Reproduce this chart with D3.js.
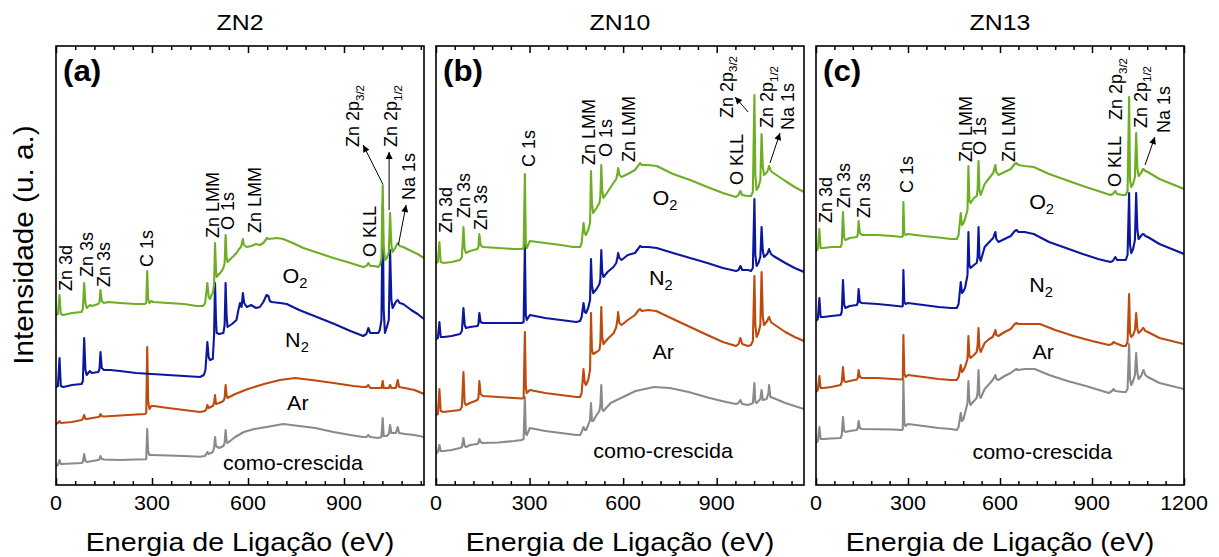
<!DOCTYPE html>
<html>
<head>
<meta charset="utf-8">
<script src="https://cdn.jsdelivr.net/npm/d3@7"></script>
<style>
  body { margin: 0; background: #fff; }
  svg { display: block; }
  text { font-family: "Liberation Sans", Arial, Helvetica, sans-serif; fill: #000; }
</style>
</head>
<body>
<svg id="chart" width="1219" height="557"></svg>
<script>
// ---------------------------------------------------------------------------
// XPS survey spectra: [binding energy (eV), intensity (a.u., stacked offsets)]
// ---------------------------------------------------------------------------

// ZN2
const zn2AsGrown = [[0,19],[6,20],[11,25],[15,21],[50,21.5],[80,22],[84,23],[88,31],[92,24],[96,23],[132,25],[136,26],[139,29],[143,26],[150,25.5],[200,25],[250,25.5],[278,25.7],[282,26],[285,56],[288,33],[292,30],[300,30],[350,29.5],[400,29],[450,28.3],[465,29],[470,31],[473,33],[477,31],[490,33],[494,37],[497,48],[500,39],[510,37],[523,39],[527,42],[530,55],[533,44],[536,42],[560,48],[587,53],[620,56],[658,58],[710,61],[760,59],[810,57],[867,53],[920,50],[960,48],[970,48],[976,50],[982,48],[1007,47],[1017,48],[1021,67],[1024,49],[1034,49],[1040,51],[1044,60],[1048,52],[1062,52],[1068,58],[1072,52],[1090,51],[1120,50],[1150,48]];
const zn2Ar = [[0,61],[6,62],[11,64],[15,62],[50,63],[80,65],[84,66],[88,70],[92,66],[96,66],[132,68],[136,68.5],[139,71],[143,69],[150,68.5],[200,69.5],[250,70.5],[278,71],[282,72],[285,138],[288,84],[292,76],[298,79],[306,79],[350,77],[400,75],[450,73],[465,74],[470,76],[473,80],[477,77],[490,79],[494,82],[497,90],[500,81],[510,82],[523,84],[527,87],[530,100],[533,90],[536,87],[560,91],[600,96],[650,101],[700,105],[747,107],[800,105],[867,102],[930,99],[960,98],[970,98],[976,100],[982,97],[1007,97],[1017,97],[1021,104],[1024,97],[1034,97],[1040,97],[1044,100],[1048,97],[1062,97],[1068,105],[1072,98],[1090,97],[1120,95],[1150,91]];
const zn2N2 = [[0,98],[6,99],[11,127],[15,99],[23,98],[50,100],[80,101],[84,104],[88,147],[92,115],[96,110],[106,114],[112,112],[132,113],[136,116],[139,133],[143,117],[150,115],[169,115],[200,114],[250,112],[300,111],[350,110],[400,109],[450,108],[462,110],[467,115],[473,143],[477,128],[481,125],[490,126],[494,150],[497,202],[500,165],[502,152],[510,151],[523,152],[527,160],[530,202],[533,170],[536,158],[550,161],[564,165],[570,175],[575,182],[580,178],[584,192],[588,182],[596,178],[610,180],[625,177],[637,178],[648,183],[658,190],[664,189],[668,184],[674,183],[700,182],[721,181],[760,175],[815,168],[870,161],[920,154],[960,149],[970,151],[976,157],[982,152],[995,152],[1007,152],[1012,155],[1017,165],[1021,280],[1024,175],[1028,152],[1034,158],[1040,165],[1044,235],[1048,185],[1052,177],[1060,182],[1064,184],[1068,185],[1074,182],[1085,181],[1110,175],[1130,171],[1150,166]];
const zn2O2 = [[0,170],[6,171],[11,190],[15,171],[23,170],[50,172],[80,173],[84,176],[88,202],[92,182],[96,177],[106,180],[112,179],[132,181],[136,183],[139,195],[143,184],[150,182],[163,183],[200,182],[250,181],[278,181],[282,182],[285,214],[288,186],[292,182],[298,184],[304,183],[350,182],[400,181],[440,179],[460,179],[466,182],[473,202],[477,188],[481,186],[486,190],[490,192],[494,200],[497,242],[500,215],[502,208],[510,211],[518,214],[523,217],[527,222],[530,250],[533,228],[536,223],[545,226],[555,229],[564,232],[572,236],[578,238],[581,242],[584,246],[587,240],[596,238],[610,239],[625,241],[637,240],[648,242],[655,245],[658,247],[665,246],[690,247],[710,246],[740,242],[773,237],[820,232],[867,227],[910,223],[940,220],[960,218],[970,219],[976,222],[982,219],[995,219],[1007,218],[1012,220],[1017,226],[1021,300],[1024,240],[1028,225],[1034,227],[1040,233],[1044,272],[1048,240],[1052,233],[1060,237],[1064,240],[1068,242],[1074,239],[1085,238],[1110,234],[1130,231],[1150,227]];

// ZN10
const zn10AsGrown = [[0,32],[6,33],[11,40],[15,34],[25,34],[50,35],[77,37],[83,38],[88,47],[92,39],[96,38],[109,40],[133,41],[136,42],[139,46],[143,43],[150,42],[200,42.5],[250,44],[275,45],[281,46],[285,88],[288,52],[291,50],[301,57],[350,54],[400,52],[450,50],[462,50],[467,53],[473,58],[477,55],[481,55],[488,60],[494,65],[497,82],[500,64],[504,64],[515,70],[524,74],[527,80],[530,100],[533,76],[537,74],[560,82],[593,87],[640,94],[699,98],[750,97],[810,93],[877,87],[930,83],[962,81],[970,82],[976,85],[982,81],[1000,80],[1010,81],[1016,82],[1021,102],[1024,83],[1028,82],[1034,84],[1040,86],[1044,95],[1048,85],[1060,86],[1066,92],[1068,100],[1072,88],[1082,87],[1120,82],[1150,79],[1180,76]];
const zn10Ar = [[0,70],[6,71],[11,96],[15,74],[25,73],[50,74],[77,75],[83,78],[88,113],[92,82],[96,80],[109,82],[133,85],[136,87],[139,104],[143,91],[150,89],[200,88],[250,87],[275,86.5],[281,87],[285,153],[288,98],[291,92],[301,95],[350,92],[400,90],[450,88],[462,88],[467,92],[473,116],[477,102],[481,100],[488,105],[494,115],[497,172],[500,135],[504,131],[515,133],[524,135],[527,142],[530,178],[533,148],[537,141],[550,146],[570,152],[578,158],[582,166],[584,173],[588,162],[595,160],[615,165],[638,170],[650,175],[654,176],[660,174],[680,175],[706,174],[760,166],[815,158],[870,150],[920,143],[962,139],[970,141],[976,147],[982,141],[1000,139],[1010,140],[1016,144],[1021,209],[1024,160],[1028,148],[1034,152],[1040,160],[1044,213],[1048,168],[1052,160],[1062,164],[1066,167],[1068,168],[1074,163],[1082,161],[1120,153],[1150,148],[1180,144]];
const zn10N2 = [[0,146],[6,147],[11,163],[15,148],[25,148],[50,149],[77,151],[83,154],[88,177],[92,160],[96,157],[109,158],[133,159],[136,161],[139,172],[143,163],[150,162],[200,162],[250,162],[275,162],[281,163],[285,240],[288,170],[291,165],[301,170],[350,167],[400,165],[450,163],[462,164],[467,168],[473,182],[477,173],[481,172],[488,177],[494,185],[497,226],[500,200],[504,192],[515,196],[524,201],[527,206],[530,235],[533,213],[537,208],[550,213],[569,218],[578,222],[582,228],[584,232],[588,227],[595,225],[615,230],[638,232],[650,237],[654,239],[660,238],[680,238],[708,237],[760,232],[815,227],[870,222],[920,217],[962,214],[970,215],[976,219],[982,215],[1000,215],[1010,214],[1016,217],[1021,286],[1024,230],[1028,219],[1034,222],[1040,228],[1044,258],[1048,234],[1052,228],[1062,231],[1066,234],[1068,236],[1074,231],[1082,229],[1120,222],[1150,217],[1180,213]];
const zn10O2 = [[0,222],[6,223],[11,243],[15,223],[25,222],[50,223],[77,225],[83,228],[88,258],[92,236],[96,232],[109,234],[133,236],[136,238],[139,251],[143,240],[150,238],[200,237],[250,236],[275,236],[281,237],[285,311],[288,242],[291,237],[301,244],[350,242],[400,240],[440,238],[462,238],[467,242],[473,262],[477,252],[481,250],[488,255],[494,262],[497,314],[500,282],[504,272],[515,277],[524,282],[527,288],[530,320],[533,295],[537,287],[550,293],[569,302],[578,306],[582,312],[584,317],[588,310],[595,308],[615,311],[638,315],[650,320],[654,322],[660,320],[680,320],[708,319],[760,311],[815,305],[870,298],[920,292],[962,288],[970,290],[976,294],[982,290],[1000,289],[1010,289],[1016,293],[1021,390],[1024,310],[1028,295],[1034,298],[1040,305],[1044,351],[1048,318],[1052,310],[1062,313],[1066,317],[1068,319],[1074,314],[1082,312],[1120,304],[1150,298],[1180,293]];

// ZN13
const zn13AsGrown = [[0,42],[6,44],[11,58],[15,46],[25,46],[50,46.5],[80,47],[84,50],[88,68],[92,54],[96,53],[110,54],[133,55],[136,57],[139,64],[143,57],[150,56],[200,55.7],[250,55.5],[280,55],[283,56],[285,105],[288,62],[292,59],[300,61],[350,59],[400,57],[440,56],[459,55],[465,58],[472,72],[476,64],[481,66],[486,72],[494,82],[497,104],[500,85],[504,80],[515,84],[524,87],[527,93],[530,115],[533,90],[537,87],[550,96],[565,101],[576,105],[582,108],[585,110],[588,106],[595,105],[615,109],[635,112],[648,115],[654,116],[660,115],[680,116],[713,116],[760,110],[820,104],[880,99],[955,92],[965,94],[970,96],[976,94],[1000,93],[1010,93],[1016,96],[1021,141],[1024,106],[1028,100],[1034,104],[1040,110],[1044,132],[1048,112],[1052,106],[1062,110],[1066,114],[1068,115],[1074,110],[1082,108],[1120,102],[1160,99],[1200,96]];
const zn13Ar = [[0,93],[6,95],[11,109],[15,97],[25,97],[50,98],[80,100],[84,103],[88,118],[92,104],[96,103],[110,104],[133,105.5],[136,107],[139,115],[143,108],[150,107],[200,107],[250,106],[280,105.5],[283,106],[285,150],[288,112],[292,108],[300,110],[350,108],[400,106],[440,105],[459,105],[465,108],[472,120],[476,113],[481,115],[486,118],[494,126],[497,149],[500,130],[504,127],[515,130],[524,133],[527,140],[530,157],[533,137],[537,133],[550,142],[565,146],[576,148],[582,152],[585,155],[588,150],[595,149],[615,153],[635,156],[648,161],[654,162],[660,161],[680,161],[730,161],[780,155],[840,149],[900,144],[955,140],[965,141],[970,143],[976,142],[1000,139],[1010,139],[1016,143],[1021,191],[1024,152],[1028,148],[1034,150],[1040,155],[1044,172],[1048,156],[1052,152],[1062,155],[1066,157],[1068,157],[1074,154],[1082,153],[1120,147],[1160,144],[1200,141]];
const zn13N2 = [[0,164],[6,166],[11,187],[15,168],[25,168],[50,169],[80,170],[84,173],[88,205],[92,180],[96,177],[110,179],[133,180],[136,182],[139,196],[143,183],[150,182],[200,181],[250,179.5],[280,178.5],[283,179],[285,215],[288,183],[292,181],[300,182],[350,180],[400,178],[440,177],[459,177],[465,181],[472,203],[476,192],[481,194],[486,197],[494,210],[497,253],[500,220],[504,217],[515,220],[524,222],[527,228],[530,258],[533,228],[537,224],[550,238],[565,243],[578,247],[582,251],[585,253],[588,246],[595,243],[615,246],[635,249],[648,254],[654,255],[660,253],[680,253],[710,251],[760,243],[815,237],[870,231],[920,226],[960,223],[968,224],[976,228],[982,225],[1000,225],[1010,225],[1016,230],[1021,292],[1024,240],[1028,232],[1034,236],[1040,245],[1044,292],[1048,255],[1052,246],[1062,250],[1066,251],[1068,251],[1074,249],[1082,248],[1120,241],[1160,236],[1200,231]];
const zn13O2 = [[0,234],[6,236],[11,256],[15,237],[25,237],[50,238],[80,238],[84,241],[88,273],[92,247],[96,245],[110,247],[133,248],[136,250],[139,264],[143,252],[150,250],[200,250],[250,249],[280,248],[283,249],[285,283],[288,252],[292,250],[300,251],[350,249],[400,247.5],[440,246],[459,246],[465,250],[472,272],[476,260],[481,262],[486,266],[494,275],[497,319],[500,285],[504,282],[515,287],[524,289],[527,295],[530,324],[533,295],[537,290],[550,301],[565,307],[578,312],[582,317],[585,320],[588,313],[595,310],[615,313],[635,316],[648,321],[654,322],[660,320],[680,319],[710,318],[760,311],[815,305],[870,299],[920,294],[960,290],[968,291],[976,294],[982,291],[1000,290],[1010,290],[1016,294],[1021,388],[1024,305],[1028,298],[1034,301],[1040,308],[1044,352],[1048,316],[1052,309],[1062,313],[1066,316],[1068,316],[1074,314],[1082,313],[1120,306],[1160,301],[1200,296]];

const sampleNames = ["ZN2", "ZN10", "ZN13"];
const panelTags = ["(a)", "(b)", "(c)"];
const energyMax = [1150, 1180, 1200];
const majorTicks = [0, 300, 600, 900, 1200];
const minorStep = 60;
const atmospheres = ["como-crescida", "Ar", "N2", "O2"];
const seriesColors = ["#8a8a8a", "#bf4a0e", "#0c179f", "#6eae25"];
const spectra = [
  [zn2AsGrown, zn2Ar, zn2N2, zn2O2],
  [zn10AsGrown, zn10Ar, zn10N2, zn10O2],
  [zn13AsGrown, zn13Ar, zn13N2, zn13O2]
];

// Peak labels (text, subscript) shared by all panels
const peakNames = [["Zn 3d"], ["Zn 3s"], ["Zn 3s"], ["C 1s"], ["Zn LMM"], ["O 1s"], ["Zn LMM"],
                   ["O KLL"], ["Zn 2p", "3/2"], ["Zn 2p", "1/2"], ["Na 1s"]];

// ---------------------------------------------------------------------------
// Annotation placement, in data coordinates (energy, intensity)
// ---------------------------------------------------------------------------
const peakLabelPos = [
  [[50,194],[116,208],[169,198],[303,218],[509,247],[556,255],[641,252],[1000,228],[947,338],[1066,338],[1122,285]],
  [[51,252],[109,267],[163,255],[317,318],[510,320],[564,328],[638,323],[984,300],[952,367],[1081,357],[1148,355]],
  [[52,262],[111,277],[176,267],[316,292],[509,323],[554,330],[648,323],[994,298],[998,365],[1079,357],[1154,352]]
];
const arrowPos = [
  [[[1021,301],[960,340]], [[1041,275],[1041,333]], [[1070,240],[1094,280]]],
  [[[1001,373],[959,388]], [[1071,322],[1103,352]]],
  [[[1073,320],[1105,348]]]
];
// series name label anchors (energy, intensity) in order como-crescida, Ar, N2, O2
const seriesLabelPos = [
  [[522,15],[722,75],[716,138],[708,202]],
  [[504,27],[694,126],[683,200],[694,280]],
  [[510,26],[706,126],[695,193],[695,276]]
];

// ---------------------------------------------------------------------------
// Layout
// ---------------------------------------------------------------------------
const svg = d3.select("#chart");
const panelLeft = [56, 436, 816];
const panelW = 368, plotTop = 46, plotBottom = 485;
const yScale = d3.scaleLinear().domain([0, plotBottom - plotTop]).range([plotBottom, plotTop]);

function addText(g, x, yy, str, o) {
  let tf = `translate(${x},${yy})`;
  if (o.rot) tf += ` rotate(${o.rot})`;
  if (o.sx) tf += ` scale(${o.sx},1)`;
  const t = g.append("text")
    .attr("transform", tf)
    .attr("font-size", o.size)
    .attr("text-anchor", o.anchor || "start");
  if (o.weight) t.attr("font-weight", o.weight);
  t.append("tspan").text(str);
  if (o.sub) t.append("tspan").attr("font-size", o.subSize).attr("dy", o.subDy).text(o.sub);
  return t;
}

svg.append("defs").append("marker")
  .attr("id", "arrowhead")
  .attr("viewBox", "0 0 10 10")
  .attr("refX", 10).attr("refY", 5)
  .attr("markerWidth", 9).attr("markerHeight", 7)
  .attr("markerUnits", "userSpaceOnUse")
  .attr("orient", "auto")
  .append("path").attr("d", "M0,0 L10,5 L0,10 Z").attr("fill", "#000");

// y-axis title
addText(svg, 33, 245, "Intensidade (u. a.)", { size: 27, rot: -90, sx: 1.1, anchor: "middle" });

sampleNames.forEach((name, p) => {
  const x0 = panelLeft[p];
  const x = d3.scaleLinear().domain([0, energyMax[p]]).range([x0, x0 + panelW]);
  const y = yScale;
  const g = svg.append("g");
  const cx = x0 + panelW / 2;

  g.append("clipPath").attr("id", "clip" + p)
    .append("rect").attr("x", x0).attr("y", plotTop).attr("width", panelW).attr("height", plotBottom - plotTop);

  // spectra
  const line = d3.line().x(d => x(d[0])).y(d => y(d[1]));
  const curves = g.append("g").attr("clip-path", `url(#clip${p})`);
  spectra[p].forEach((s, i) => {
    curves.append("path")
      .datum(s)
      .attr("d", line)
      .attr("fill", "none")
      .attr("stroke", seriesColors[i])
      .attr("stroke-width", 2.1)
      .attr("stroke-linejoin", "round");
  });

  // axes: inward ticks on bottom and top
  const majors = majorTicks.filter(v => v <= energyMax[p]);
  const minors = d3.range(0, energyMax[p] + 1, minorStep).filter(v => v % 300 !== 0);
  [[d3.axisBottom, plotBottom], [d3.axisTop, plotTop]].forEach(([ax, yy]) => {
    const major = g.append("g").attr("transform", `translate(0,${yy})`)
      .call(ax(x).tickValues(majors).tickSize(-7).tickFormat(""));
    const minor = g.append("g").attr("transform", `translate(0,${yy})`)
      .call(ax(x).tickValues(minors).tickSize(-4).tickFormat(""));
    [major, minor].forEach(a => {
      a.select(".domain").remove();
      a.selectAll("line").attr("stroke", "#000").attr("stroke-width", 1.5);
    });
  });
  majors.forEach(v => addText(g, x(v), 510, d3.format("d")(v), { size: 19.5, sx: 1.1, anchor: "middle" }));

  // frame
  g.append("rect").attr("x", x0).attr("y", plotTop).attr("width", panelW).attr("height", plotBottom - plotTop)
    .attr("fill", "none").attr("stroke", "#000").attr("stroke-width", 1.6);

  // titles
  addText(g, cx, 30, name, { size: 22, sx: 1.13, anchor: "middle" });
  addText(g, cx, 551, "Energia de Ligação (eV)", { size: 26, sx: 1.1, anchor: "middle" });
  addText(g, x0 + 7, 81, panelTags[p], { size: 29, sx: 1.08, weight: "bold" });

  // series names
  atmospheres.forEach((a, i) => {
    const [e, v] = seriesLabelPos[p][i];
    const isGas = a.endsWith("2");
    addText(g, x(e), y(v), isGas ? a.slice(0, -1) : a, {
      size: 20.5, sx: 1.05,
      sub: isGas ? "2" : null, subSize: 14, subDy: 5
    });
  });

  // peak assignments
  peakNames.forEach((pk, i) => {
    const [e, v] = peakLabelPos[p][i];
    addText(g, x(e), y(v), pk[0], {
      size: 18, rot: -90,
      sub: pk[1] || null, subSize: 11.5, subDy: 4.5
    });
  });

  // arrows
  arrowPos[p].forEach(([a, b]) => {
    g.append("line")
      .attr("x1", x(a[0])).attr("y1", y(a[1]))
      .attr("x2", x(b[0])).attr("y2", y(b[1]))
      .attr("stroke", "#000").attr("stroke-width", 1)
      .attr("marker-end", "url(#arrowhead)");
  });
});
</script>
</body>
</html>
